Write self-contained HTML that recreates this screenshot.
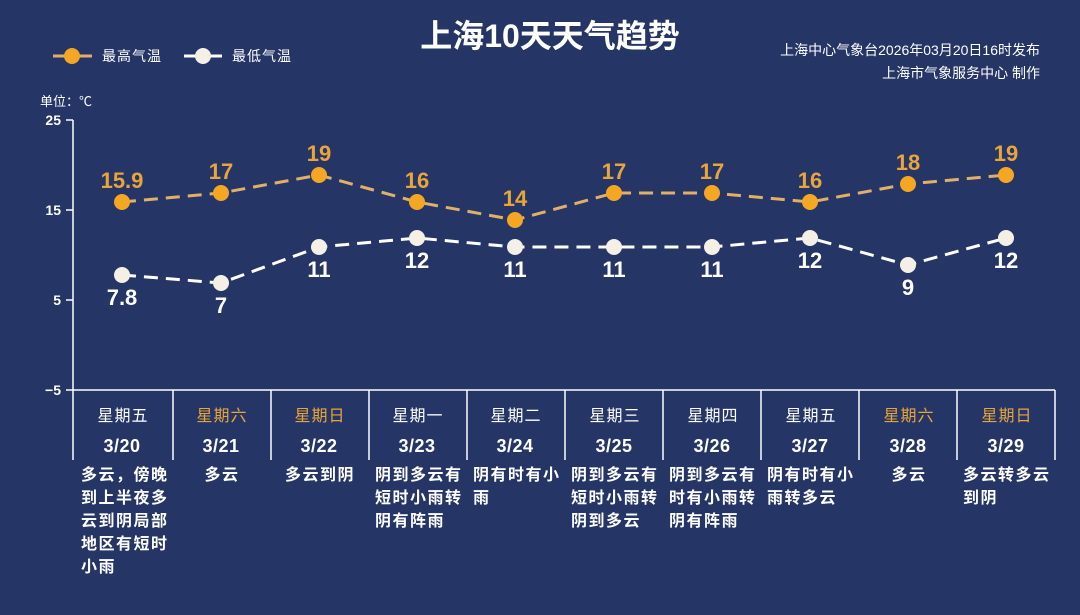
<!DOCTYPE html><html><head><meta charset="utf-8"><style>
body{margin:0;width:1080px;height:610px;background:#253566;overflow:hidden;font-family:"Liberation Sans","Noto Sans CJK SC",sans-serif;}
</style></head><body>
<svg width="1080" height="610" xmlns="http://www.w3.org/2000/svg" font-family="Liberation Sans, Noto Sans CJK SC, sans-serif">
<rect width="1080" height="610" fill="#253566"/>
<text x="550" y="47" fill="#fff" font-size="32" font-weight="bold" text-anchor="middle">上海10天天气趋势</text>
<text x="1040" y="55" fill="#fff" font-size="14" text-anchor="end">上海中心气象台2026年03月20日16时发布</text>
<text x="1040" y="78" fill="#fff" font-size="14" text-anchor="end">上海市气象服务中心  制作</text>
<line x1="53" y1="56" x2="92" y2="56" stroke="#e0b068" stroke-width="3"/><circle cx="72" cy="56" r="8" fill="#f5a623"/>
<text x="102" y="61" fill="#fff" font-size="14" letter-spacing="1">最高气温</text>
<line x1="184" y1="56" x2="222" y2="56" stroke="#fff" stroke-width="3"/><circle cx="203" cy="56" r="8" fill="#f5f0e6"/>
<text x="232" y="61" fill="#fff" font-size="14" letter-spacing="1">最低气温</text>
<text x="40" y="106" fill="#fff" font-size="13">单位：℃</text>
<g fill="#fff" font-size="14" font-weight="bold" text-anchor="end">
<text x="61" y="125">25</text><text x="61" y="215">15</text><text x="61" y="305">5</text><text x="61" y="395">−5</text></g>
<g stroke="#fff" stroke-width="1.5"><line x1="73" y1="120" x2="73" y2="460"/><line x1="66" y1="120" x2="73" y2="120"/><line x1="66" y1="210" x2="73" y2="210"/><line x1="66" y1="300" x2="73" y2="300"/><line x1="66" y1="390" x2="1055" y2="390"/>
<line x1="173" y1="390" x2="173" y2="460"/><line x1="271" y1="390" x2="271" y2="460"/><line x1="369" y1="390" x2="369" y2="460"/><line x1="467" y1="390" x2="467" y2="460"/><line x1="565" y1="390" x2="565" y2="460"/><line x1="663" y1="390" x2="663" y2="460"/><line x1="761" y1="390" x2="761" y2="460"/><line x1="859" y1="390" x2="859" y2="460"/><line x1="957" y1="390" x2="957" y2="460"/><line x1="1055" y1="390" x2="1055" y2="460"/></g>
<polyline points="122,202 221,193 319,175 417,202 515,220 614,193 712,193 810,202 908,184 1006,175" fill="none" stroke="#e0b068" stroke-width="3" stroke-dasharray="14,8"/>
<polyline points="122,275 221,283 319,247 417,238 515,247 614,247 712,247 810,238 908,265 1006,238" fill="none" stroke="#fff" stroke-width="3" stroke-dasharray="14,8"/>
<g fill="#f5a623"><circle cx="122" cy="202" r="8"/><circle cx="221" cy="193" r="8"/><circle cx="319" cy="175" r="8"/><circle cx="417" cy="202" r="8"/><circle cx="515" cy="220" r="8"/><circle cx="614" cy="193" r="8"/><circle cx="712" cy="193" r="8"/><circle cx="810" cy="202" r="8"/><circle cx="908" cy="184" r="8"/><circle cx="1006" cy="175" r="8"/></g>
<g fill="#f5f0e6"><circle cx="122" cy="275" r="8"/><circle cx="221" cy="283" r="8"/><circle cx="319" cy="247" r="8"/><circle cx="417" cy="238" r="8"/><circle cx="515" cy="247" r="8"/><circle cx="614" cy="247" r="8"/><circle cx="712" cy="247" r="8"/><circle cx="810" cy="238" r="8"/><circle cx="908" cy="265" r="8"/><circle cx="1006" cy="238" r="8"/></g>
<g fill="#e8a53a" font-size="22" font-weight="bold" text-anchor="middle">
<text x="122" y="188">15.9</text><text x="221" y="179">17</text><text x="319" y="161">19</text><text x="417" y="188">16</text><text x="515" y="206">14</text><text x="614" y="179">17</text><text x="712" y="179">17</text><text x="810" y="188">16</text><text x="908" y="170">18</text><text x="1006" y="161">19</text></g>
<g fill="#fff" font-size="22" font-weight="bold" text-anchor="middle">
<text x="122" y="305">7.8</text><text x="221" y="313">7</text><text x="319" y="277">11</text><text x="417" y="268">12</text><text x="515" y="277">11</text><text x="614" y="277">11</text><text x="712" y="277">11</text><text x="810" y="268">12</text><text x="908" y="295">9</text><text x="1006" y="268">12</text></g>
<g font-size="16" text-anchor="middle" fill="#fff" letter-spacing="1">
<text x="123" y="421">星期五</text><text x="222" y="421" fill="#e8a53a">星期六</text><text x="320" y="421" fill="#e8a53a">星期日</text><text x="418" y="421">星期一</text><text x="516" y="421">星期二</text><text x="615" y="421">星期三</text><text x="713" y="421">星期四</text><text x="811" y="421">星期五</text><text x="909" y="421" fill="#e8a53a">星期六</text><text x="1007" y="421" fill="#e8a53a">星期日</text></g>
<g font-size="18" font-weight="bold" text-anchor="middle" fill="#fff" letter-spacing="0.5">
<text x="122" y="452">3/20</text><text x="221" y="452">3/21</text><text x="319" y="452">3/22</text><text x="417" y="452">3/23</text><text x="515" y="452">3/24</text><text x="614" y="452">3/25</text><text x="712" y="452">3/26</text><text x="810" y="452">3/27</text><text x="908" y="452">3/28</text><text x="1006" y="452">3/29</text></g>
<g font-size="16" font-weight="bold" fill="#fff" letter-spacing="1.5">
<text x="81" y="480">多云，傍晚</text><text x="81" y="503">到上半夜多</text><text x="81" y="526">云到阴局部</text><text x="81" y="549">地区有短时</text><text x="81" y="572">小雨</text>
<text x="222" y="480" text-anchor="middle">多云</text>
<text x="320" y="480" text-anchor="middle">多云到阴</text>
<text x="375" y="480">阴到多云有</text><text x="375" y="503">短时小雨转</text><text x="375" y="526">阴有阵雨</text>
<text x="473" y="480">阴有时有小</text><text x="473" y="503">雨</text>
<text x="571" y="480">阴到多云有</text><text x="571" y="503">短时小雨转</text><text x="571" y="526">阴到多云</text>
<text x="669" y="480">阴到多云有</text><text x="669" y="503">时有小雨转</text><text x="669" y="526">阴有阵雨</text>
<text x="767" y="480">阴有时有小</text><text x="767" y="503">雨转多云</text>
<text x="909" y="480" text-anchor="middle">多云</text>
<text x="963" y="480">多云转多云</text><text x="963" y="503">到阴</text>
</g>
</svg></body></html>
